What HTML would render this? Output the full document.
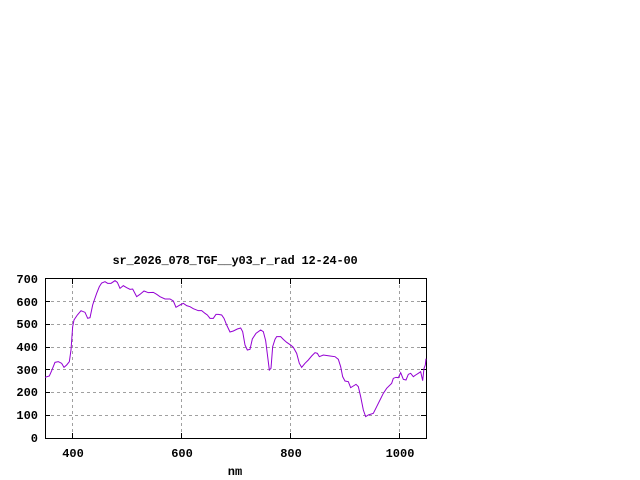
<!DOCTYPE html>
<html><head><meta charset="utf-8"><style>
html,body{margin:0;padding:0;background:#fff;width:640px;height:480px;overflow:hidden}
text{font-family:"Liberation Mono","DejaVu Sans Mono",monospace;font-size:12px;font-weight:bold;fill:#000}
</style></head><body>
<svg width="640" height="480" xmlns="http://www.w3.org/2000/svg">
<text x="235" y="264" text-anchor="middle" style="letter-spacing:-0.2px">sr_2026_078_TGF__y03_r_rad 12-24-00</text>
<g stroke="#a0a0a0" stroke-width="1" stroke-dasharray="3,3" shape-rendering="crispEdges">
<line x1="45" y1="415.5" x2="426" y2="415.5"/>
<line x1="45" y1="392.5" x2="426" y2="392.5"/>
<line x1="45" y1="369.5" x2="426" y2="369.5"/>
<line x1="45" y1="347.5" x2="426" y2="347.5"/>
<line x1="45" y1="324.5" x2="426" y2="324.5"/>
<line x1="45" y1="301.5" x2="426" y2="301.5"/>
<line x1="72.5" y1="279" x2="72.5" y2="438"/>
<line x1="181.5" y1="279" x2="181.5" y2="438"/>
<line x1="290.5" y1="279" x2="290.5" y2="438"/>
<line x1="399.5" y1="279" x2="399.5" y2="438"/>
</g>
<g stroke="#000" stroke-width="1" shape-rendering="crispEdges">
<rect x="45.5" y="278.5" width="381" height="160" fill="none"/>
<path d="M45 415.5h5M45 392.5h5M45 369.5h5M45 347.5h5M45 324.5h5M45 301.5h5M421 415.5h5M421 392.5h5M421 369.5h5M421 347.5h5M421 324.5h5M421 301.5h5M72.5 438v-5M181.5 438v-5M290.5 438v-5M399.5 438v-5M72.5 279v5M181.5 279v5M290.5 279v5M399.5 279v5"/>
</g>
<g text-anchor="end">
<text x="38" y="442">0</text><text x="38" y="419">100</text><text x="38" y="396">200</text>
<text x="38" y="374">300</text><text x="38" y="351">400</text><text x="38" y="328">500</text>
<text x="38" y="306">600</text><text x="38" y="283">700</text>
</g>
<g text-anchor="middle">
<text x="73" y="457">400</text><text x="182" y="457">600</text><text x="291" y="457">800</text><text x="400" y="457">1000</text>
<text x="235" y="475">nm</text>
</g>
<g transform="translate(0,250) scale(0.33333)">
<polyline fill="none" stroke="#9400d3" stroke-width="3" points="135,382 148,378 155,362 165,337 175,335 185,340 192,352 200,345 208,335 213,300 218,230 222,210 232,195 243,182 255,187 263,205 270,203 278,165 283,150 290,130 298,110 305,99 315,95 323,100 333,100 345,92 352,97 360,115 370,107 380,113 390,118 398,117 410,140 420,133 432,123 445,128 460,127 470,133 480,140 495,147 510,147 520,153 528,172 540,165 550,160 560,167 570,170 580,176 595,182 605,182 615,190 622,195 630,205 640,205 648,193 655,193 665,195 672,205 680,225 690,246 700,243 712,237 722,234 728,245 735,285 742,300 750,298 757,267 768,250 782,240 790,245 797,272 803,320 808,360 813,355 818,290 825,268 830,260 842,260 850,268 860,277 873,286 880,292 890,310 898,340 905,352 915,340 925,330 935,318 945,308 952,310 958,320 970,315 990,318 1005,320 1015,328 1022,350 1028,380 1035,393 1045,395 1052,413 1060,408 1068,403 1075,410 1082,440 1090,480 1097,500 1105,495 1120,490 1130,470 1140,450 1150,430 1160,415 1175,400 1180,385 1188,382 1195,383 1202,368 1210,388 1218,390 1225,373 1232,370 1240,380 1247,375 1255,370 1262,365 1268,392 1272,355 1276,345 1278,326"/>
</g>
</svg>
</body></html>
